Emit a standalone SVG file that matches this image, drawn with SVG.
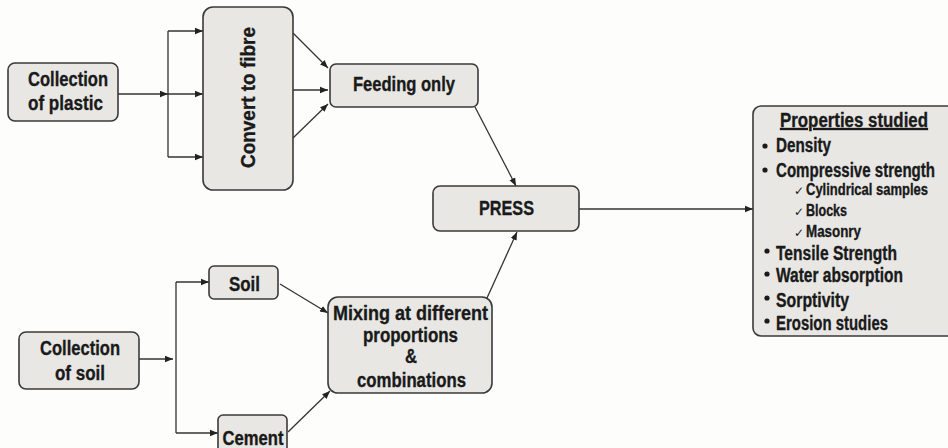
<svg xmlns="http://www.w3.org/2000/svg" width="948" height="448" viewBox="0 0 948 448">
<style>
.n{fill:#e8e7e4;stroke:#3a3a3a;stroke-width:1.6}
text{font-family:"Liberation Sans",Arial,sans-serif;font-weight:bold;fill:#1a1a1a;stroke:#1a1a1a;stroke-width:0.35;font-size:20px}
.c{text-anchor:middle}
.s{font-size:16px}
.k{font-family:"DejaVu Sans",sans-serif;font-weight:normal;font-size:12px;stroke:none}
.e{fill:none;stroke:#333;stroke-width:1.3}
.b{fill:#1a1a1a}
</style>
<defs>
<marker id="a" viewBox="0 0 10 10" refX="10" refY="5" markerWidth="8" markerHeight="8" markerUnits="userSpaceOnUse" orient="auto"><path d="M0,1 L10,5 L0,9 z" fill="#222"/></marker>
</defs>
<rect width="948" height="448" fill="#fdfdfb"/>
<g id="connectors">
<path class="e" d="M118,94 H168" marker-end="url(#a)"/>
<path class="e" d="M168,31 V157"/>
<path class="e" d="M168,31 H203" marker-end="url(#a)"/>
<path class="e" d="M168,94 H203" marker-end="url(#a)"/>
<path class="e" d="M168,157 H203" marker-end="url(#a)"/>
<path class="e" d="M293,33 L328,68" marker-end="url(#a)"/>
<path class="e" d="M293,90 H328" marker-end="url(#a)"/>
<path class="e" d="M293,138 L328,104" marker-end="url(#a)"/>
<path class="e" d="M139,359 H173" marker-end="url(#a)"/>
<path class="e" d="M176,282 V433"/>
<path class="e" d="M176,282 H209" marker-end="url(#a)"/>
<path class="e" d="M176,433 H218" marker-end="url(#a)"/>
<path class="e" d="M280,284 L328,313" marker-end="url(#a)"/>
<path class="e" d="M288,432 L330,391" marker-end="url(#a)"/>
<path class="e" d="M475,107 L516,186" marker-end="url(#a)"/>
<path class="e" d="M487,298 L517,232" marker-end="url(#a)"/>
<path class="e" d="M579,209 H753" marker-end="url(#a)"/>
</g>
<g id="plastic"><rect class="n" x="8" y="63" width="110" height="58" rx="7"/><text class="c" x="68" y="86" textLength="80" lengthAdjust="spacingAndGlyphs">Collection</text><text class="c" x="65.5" y="110" textLength="75" lengthAdjust="spacingAndGlyphs">of plastic</text></g>
<g id="fibre"><rect class="n" x="203" y="7" width="90" height="183" rx="10"/><text class="c" transform="translate(255,97.5) rotate(-90)" textLength="141" lengthAdjust="spacingAndGlyphs">Convert to fibre</text></g>
<g id="feeding"><rect class="n" x="330" y="64" width="148" height="43" rx="6"/><text class="c" x="404" y="91" textLength="102" lengthAdjust="spacingAndGlyphs">Feeding only</text></g>
<g id="soilcol"><rect class="n" x="19" y="332" width="120" height="57" rx="7"/><text class="c" x="80" y="355" textLength="80" lengthAdjust="spacingAndGlyphs">Collection</text><text class="c" x="80" y="380" textLength="50" lengthAdjust="spacingAndGlyphs">of soil</text></g>
<g id="soil"><rect class="n" x="209" y="266" width="69" height="33" rx="5"/><text class="c" x="244.5" y="291" font-size="22" textLength="31" lengthAdjust="spacingAndGlyphs">Soil</text></g>
<g id="cement"><rect class="n" x="218" y="415" width="69" height="38" rx="5"/><text class="c" x="253" y="445" font-size="24" textLength="61" lengthAdjust="spacingAndGlyphs">Cement</text></g>
<g id="mixing"><rect class="n" x="328" y="297" width="164" height="96" rx="10"/><text class="c" x="410.5" y="320" textLength="155" lengthAdjust="spacingAndGlyphs">Mixing at different</text><text class="c" x="410.5" y="342" textLength="95" lengthAdjust="spacingAndGlyphs">proportions</text><text class="c" x="411" y="363" textLength="12" lengthAdjust="spacingAndGlyphs">&amp;</text><text class="c" x="411.5" y="387" textLength="109" lengthAdjust="spacingAndGlyphs">combinations</text></g>
<g id="press"><rect class="n" x="433" y="186" width="146" height="45" rx="7"/><text class="c" x="506.5" y="215" textLength="55" lengthAdjust="spacingAndGlyphs">PRESS</text></g>
<g id="properties"><rect class="n" x="753" y="106" width="205" height="230" rx="8"/>
<text class="c" x="854" y="127" text-decoration="underline" textLength="148" lengthAdjust="spacingAndGlyphs">Properties studied</text>
<circle class="b" cx="765" cy="146" r="2.6"/><text x="776" y="152" textLength="55" lengthAdjust="spacingAndGlyphs">Density</text>
<circle class="b" cx="765" cy="170" r="2.6"/><text x="776" y="177" textLength="159" lengthAdjust="spacingAndGlyphs">Compressive strength</text>
<text class="k" x="794" y="195">✓</text><text class="s" x="806" y="195" textLength="122" lengthAdjust="spacingAndGlyphs">Cylindrical samples</text>
<text class="k" x="794" y="216">✓</text><text class="s" x="806" y="216" textLength="41" lengthAdjust="spacingAndGlyphs">Blocks</text>
<text class="k" x="794" y="237">✓</text><text class="s" x="806" y="237" textLength="55" lengthAdjust="spacingAndGlyphs">Masonry</text>
<circle class="b" cx="767" cy="251" r="2.6"/><text x="776" y="260" textLength="121" lengthAdjust="spacingAndGlyphs">Tensile Strength</text>
<circle class="b" cx="767" cy="274" r="2.6"/><text x="776" y="282" textLength="127" lengthAdjust="spacingAndGlyphs">Water absorption</text>
<circle class="b" cx="767" cy="298" r="2.6"/><text x="776" y="307" textLength="73" lengthAdjust="spacingAndGlyphs">Sorptivity</text>
<circle class="b" cx="767" cy="321" r="2.6"/><text x="776" y="330" textLength="112" lengthAdjust="spacingAndGlyphs">Erosion studies</text>
</g>
</svg>
